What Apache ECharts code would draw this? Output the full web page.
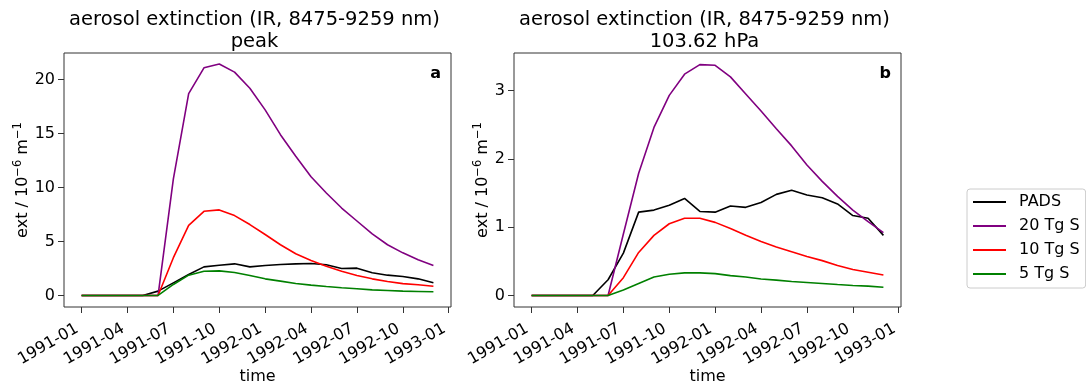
<!DOCTYPE html>
<html lang="en">
<head>
<meta charset="UTF-8">
<title>aerosol extinction</title>
<script src="https://cdn.jsdelivr.net/npm/echarts@6/dist/echarts.min.js"></script>
<style>
    html, body { margin: 0; padding: 0; background: #fff; }
    #main { width: 1086px; height: 387px; }
</style>
</head>
<body>
<div id="main"></div>
<script type="text/javascript">
    // monthly values, 1991-01 .. 1992-12
    var months = ['1991-01', '1991-02', '1991-03', '1991-04', '1991-05', '1991-06',
        '1991-07', '1991-08', '1991-09', '1991-10', '1991-11', '1991-12',
        '1992-01', '1992-02', '1992-03', '1992-04', '1992-05', '1992-06',
        '1992-07', '1992-08', '1992-09', '1992-10', '1992-11', '1992-12'];
    var tickLabels = ['1991-01', '1991-04', '1991-07', '1991-10', '1992-01',
        '1992-04', '1992-07', '1992-10', '1993-01'];
    var seriesNames = ['PADS', '20 Tg S', '10 Tg S', '5 Tg S'];

    // panel a: peak
    var peakPADS = [0, 0, 0, 0, 0, 0.4, 1.17, 1.94, 2.65, 2.8, 2.93, 2.65, 2.78, 2.87, 2.93, 2.96, 2.84, 2.5, 2.53, 2.1, 1.88, 1.76, 1.54, 1.17];
    var peak20 = [0, 0, 0, 0, 0, 0, 10.8, 18.7, 21.1, 21.45, 20.7, 19.2, 17.2, 14.9, 12.9, 11.0, 9.5, 8.1, 6.9, 5.7, 4.7, 3.95, 3.3, 2.78];
    var peak10 = [0, 0, 0, 0, 0, 0, 3.5, 6.5, 7.8, 7.93, 7.4, 6.57, 5.65, 4.7, 3.86, 3.24, 2.7, 2.25, 1.85, 1.54, 1.3, 1.1, 0.99, 0.86];
    var peak5 = [0, 0, 0, 0, 0, 0, 1.02, 1.88, 2.25, 2.28, 2.13, 1.85, 1.54, 1.33, 1.11, 0.96, 0.83, 0.71, 0.62, 0.52, 0.46, 0.4, 0.37, 0.34];
    var peakTicks = [0, 5, 10, 15, 20];

    // panel b: 103.62 hPa
    var hpaPADS = [0, 0, 0, 0, 0, 0.23, 0.62, 1.22, 1.25, 1.32, 1.42, 1.23, 1.22, 1.31, 1.29, 1.36, 1.48, 1.54, 1.47, 1.43, 1.34, 1.17, 1.13, 0.88];
    var hpa20 = [0, 0, 0, 0, 0, 0, 0.9, 1.79, 2.46, 2.93, 3.24, 3.38, 3.37, 3.2, 2.95, 2.7, 2.44, 2.19, 1.91, 1.67, 1.45, 1.25, 1.08, 0.92];
    var hpa10 = [0, 0, 0, 0, 0, 0, 0.26, 0.63, 0.88, 1.05, 1.13, 1.13, 1.07, 0.98, 0.88, 0.79, 0.71, 0.64, 0.57, 0.51, 0.44, 0.38, 0.34, 0.30];
    var hpa5 = [0, 0, 0, 0, 0, 0, 0.08, 0.175, 0.27, 0.31, 0.33, 0.33, 0.32, 0.29, 0.27, 0.24, 0.225, 0.205, 0.19, 0.175, 0.16, 0.146, 0.136, 0.12];
    var hpaTicks = [0, 1, 2, 3];

    var colors = ['#000000', '#800080', '#ff0000', '#008000'];
    var font = 'DejaVu Sans';

    // months since 1991-01
    function monthIndex(s) {
        var p = s.split('-');
        return (Number(p[0]) - 1991) * 12 + (Number(p[1]) - 1);
    }
    var xTicks = tickLabels.map(monthIndex);

    function pairs(arr) {
        return months.map(function (m, i) { return [monthIndex(m), arr[i]]; });
    }

    function xAxisFor(idx) {
        return {
            type: 'value', gridIndex: idx, min: -1.15, max: 24.15,
            name: 'time', nameLocation: 'middle', nameGap: 62, nameMoveOverlap: false,
            nameTextStyle: { fontFamily: font, fontSize: 16, color: '#000' },
            axisLine: { show: false, onZero: false },
            splitLine: { show: false },
            axisTick: { customValues: xTicks, length: 6, lineStyle: { color: '#333' } },
            axisLabel: {
                customValues: xTicks, rotate: 30, margin: 18,
                padding: [0, 5, 0, 0],
                fontFamily: font, fontSize: 16, color: '#000',
                formatter: function (v) { return tickLabels[xTicks.indexOf(Math.round(v))]; }
            }
        };
    }

    function yAxisFor(idx, min, max, ticks, gap) {
        return {
            type: 'value', gridIndex: idx, min: min, max: max,
            name: 'ext / 10{sup|−6} m{sup|−1}', nameLocation: 'middle', nameGap: gap, nameRotate: 90,
            nameMoveOverlap: false,
            nameTextStyle: {
                fontFamily: font, fontSize: 16, color: '#000', lineHeight: 22, verticalAlign: 'bottom',
                rich: { sup: { fontFamily: font, fontSize: 11.5, color: '#000', lineHeight: 22, verticalAlign: 'top' } }
            },
            axisLine: { show: false, onZero: false },
            splitLine: { show: false },
            axisTick: { customValues: ticks, length: 6, lineStyle: { color: '#333' } },
            axisLabel: { customValues: ticks, margin: 9, fontFamily: font, fontSize: 16, color: '#000' }
        };
    }

    function lines(idx, data) {
        return data.map(function (arr, k) {
            return {
                name: seriesNames[k], type: 'line',
                xAxisIndex: idx, yAxisIndex: idx,
                data: pairs(arr), showSymbol: false, symbol: 'none',
                lineStyle: { color: colors[k], width: 1.6 },
                itemStyle: { color: colors[k] },
                animation: false
            };
        });
    }

    function label(x, y, text, extra) {
        return {
            type: 'text', x: x, y: y,
            style: Object.assign({
                text: text, fontFamily: font, fontSize: 19.5, fill: '#000',
                align: 'center', verticalAlign: 'middle'
            }, extra || {})
        };
    }

    var chart = echarts.init(document.getElementById('main'));
    var option = {
        backgroundColor: '#fff',
        animation: false,
        grid: [
            { left: 64, top: 53, width: 387, height: 254, show: true, borderColor: '#333', borderWidth: 1, outerBoundsMode: 'none' },
            { left: 514, top: 53, width: 387, height: 254, show: true, borderColor: '#333', borderWidth: 1, outerBoundsMode: 'none' }
        ],
        xAxis: [xAxisFor(0), xAxisFor(1)],
        yAxis: [
            yAxisFor(0, -1.07, 22.47, peakTicks, 30),
            yAxisFor(1, -0.169, 3.55, hpaTicks, 20)
        ],
        legend: {
            orient: 'vertical', left: 967, top: 189,
            data: seriesNames,
            icon: 'rect', itemWidth: 33, itemHeight: 2, itemGap: 8,
            padding: [5, 6, 6, 6],
            backgroundColor: '#fff', borderColor: '#cccccc', borderWidth: 1, borderRadius: 3,
            textStyle: { fontFamily: font, fontSize: 16, color: '#000', lineHeight: 16, padding: [0, 0, 0, 8] }
        },
        graphic: [
            label(254.5, 20, 'aerosol extinction (IR, 8475-9259 nm)'),
            label(254.5, 42, 'peak'),
            label(704.5, 20, 'aerosol extinction (IR, 8475-9259 nm)'),
            label(704.5, 42, '103.62 hPa'),
            label(441, 74, 'a', { fontSize: 16, fontWeight: 'bold', align: 'right' }),
            label(891, 74, 'b', { fontSize: 16, fontWeight: 'bold', align: 'right' })
        ],
        series: lines(0, [peakPADS, peak20, peak10, peak5]).concat(lines(1, [hpaPADS, hpa20, hpa10, hpa5]))
    };
    chart.setOption(option);
</script>
</body>
</html>
